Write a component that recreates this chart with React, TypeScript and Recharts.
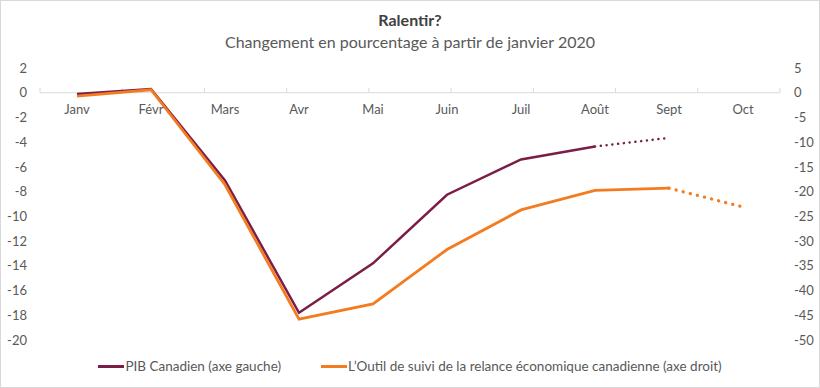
import React from 'react';
import { LineChart, Line, XAxis, YAxis, ReferenceLine, Legend } from 'recharts';

const months = ['Janv', 'Févr', 'Mars', 'Avr', 'Mai', 'Juin', 'Juil', 'Août', 'Sept', 'Oct'];
const pib = [-0.1, 0.3, -7.1, -17.8, -13.8, -8.25, -5.4, -4.35, null, null];
const pibProj = [null, null, null, null, null, null, null, -4.35, -3.65, null];
const outil = [-0.7, 0.6, -18.6, -45.8, -42.7, -31.7, -23.7, -19.75, -19.3, null];
const outilProj = [null, null, null, null, null, null, null, null, -19.3, -23.1];

const leftTicks = [2, 0, -2, -4, -6, -8, -10, -12, -14, -16, -18, -20];
const rightTicks = [5, 0, -5, -10, -15, -20, -25, -30, -35, -40, -45, -50];
const boundaries = [0, 1, 2, 3, 4, 5, 6, 7, 8, 9, 10];

const title = 'Ralentir?';
const subtitle = 'Changement en pourcentage à partir de janvier 2020';
const legendItems = [
  { name: 'PIB Canadien (axe gauche)', color: '#7b1e47' },
  { name: 'L\u2019Outil de suivi de la relance économique canadienne (axe droit)', color: '#f47c20' },
];

const PIB_COLOR = '#7b1e47';
const OUTIL_COLOR = '#f47c20';
const FONT = 'Lato, "Open Sans", sans-serif';
const TEXT = '#595959';

const data = months.map((m, i) => ({
  m,
  pib: pib[i],
  pibProj: pibProj[i],
  outil: outil[i],
  outilProj: outilProj[i],
}));

const MonthTick = (p: any) => (
  <text x={p.x} y={p.y} dy={46} textAnchor="middle" fill={TEXT} fontSize={13} fontFamily={FONT}>
    {p.payload.value}
  </text>
);

const LegendContent = () => (
  <div style={{ display: 'flex', justifyContent: 'center', alignItems: 'center', height: 20, fontFamily: FONT, fontSize: 13.5, color: TEXT }}>
    {legendItems.map((it, i) => (
      <div key={it.name} style={{ display: 'flex', alignItems: 'center', marginLeft: i === 0 ? 0 : 40 }}>
        <div style={{ width: 26, height: 3, background: it.color, marginRight: 1 }} />
        <span style={{ whiteSpace: 'nowrap' }}>{it.name}</span>
      </div>
    ))}
  </div>
);

export default function App() {
  return (
    <div style={{ position: 'fixed', left: 0, top: 0, width: 820, height: 388, background: '#fff', fontFamily: FONT }}>
      <div style={{ position: 'absolute', left: 0, top: 9, width: 820, textAlign: 'center', fontWeight: 700, fontSize: 16, color: '#404040', lineHeight: '22px' }}>
        {title}
      </div>
      <div style={{ position: 'absolute', left: 0, top: 31, width: 820, textAlign: 'center', fontSize: 16, color: TEXT, lineHeight: '22px' }}>
        {subtitle}
      </div>
      <div style={{ position: 'absolute', left: 0, top: 0 }}>
        <LineChart width={820} height={388} data={data} margin={{ top: 67, right: 0, left: 0, bottom: 28 }}>
          <XAxis dataKey="m" orientation="top" scale="band" height={1} tickSize={0} tickMargin={0} axisLine={false} tickLine={false} tick={<MonthTick />} interval={0} />
          <XAxis xAxisId="g" type="number" domain={[0, 10]} allowDataOverflow hide />
          <YAxis yAxisId="l" domain={[-20, 2]} ticks={leftTicks} width={40} axisLine={false} tickLine={false} tickSize={6} tickMargin={7} tick={{ fill: TEXT, fontSize: 13, fontFamily: FONT }} interval={0} />
          <YAxis yAxisId="r" orientation="right" domain={[-50, 5]} ticks={rightTicks} width={40} axisLine={false} tickLine={false} tickSize={6} tickMargin={8} tick={{ fill: TEXT, fontSize: 13, fontFamily: FONT, textAnchor: 'start' }} interval={0} />
          <ReferenceLine yAxisId="l" xAxisId="g" y={0} stroke="#d9d9d9" strokeWidth={1} />
          {boundaries.map((b) => (
            <ReferenceLine key={b} yAxisId="l" xAxisId="g" segment={[{ x: b, y: 0 }, { x: b, y: 0.4 }]} stroke="#d9d9d9" strokeWidth={1} />
          ))}
          <Line yAxisId="l" dataKey="pibProj" stroke={PIB_COLOR} strokeWidth={2.5} strokeDasharray="0.1 5.7" strokeLinecap="round" dot={false} isAnimationActive={false} legendType="none" />
          <Line yAxisId="l" dataKey="pib" stroke={PIB_COLOR} strokeWidth={2.5} dot={false} isAnimationActive={false} />
          <Line yAxisId="r" dataKey="outilProj" stroke={OUTIL_COLOR} strokeWidth={3.3} strokeDasharray="0.1 7.2" strokeLinecap="round" dot={false} isAnimationActive={false} legendType="none" />
          <Line yAxisId="r" dataKey="outil" stroke={OUTIL_COLOR} strokeWidth={2.8} dot={false} isAnimationActive={false} />
          <Legend verticalAlign="bottom" content={<LegendContent />} wrapperStyle={{ left: 0, width: 820, top: 356 }} />
        </LineChart>
      </div>
      <div style={{ position: 'absolute', left: 0, top: 0, width: 820, height: 388, boxSizing: 'border-box', border: '1px solid #d9d9d9', pointerEvents: 'none' }} />
    </div>
  );
}
